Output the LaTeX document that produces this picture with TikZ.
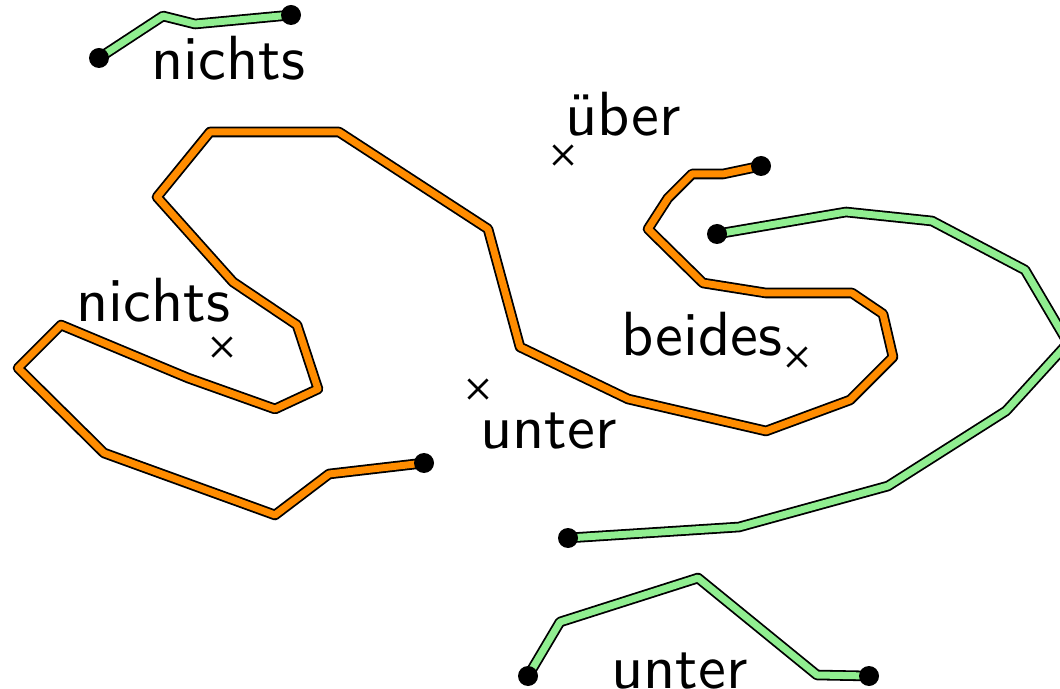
\documentclass[tikz,border=0pt]{standalone}
\usetikzlibrary{shapes.misc}
\definecolor{lgreen}{RGB}{144,238,144}
\definecolor{dorange}{RGB}{255,140,0}
\newcommand{\biglbl}[1]{{\sffamily\fontsize{10}{12}\selectfont\scalebox{3.12}{#1}}}
\tikzset{
  greenline/.style={draw=black, line width=5.3pt, line join=round, postaction={draw=lgreen, line width=3.5pt}},
  orangeline/.style={draw=black, line width=5.3pt, line join=round, postaction={draw=dorange, line width=3.5pt}},
  enddot/.style={circle, fill=black, inner sep=0pt, minimum size=10pt},
  crossmark/.style={cross out, draw=black, line width=1.4pt, inner sep=0pt, minimum size=8.2pt},
  lbl/.style={inner sep=0pt, anchor=base west}
}
\begin{document}
\begin{tikzpicture}[x=0.5pt, y=-0.5pt]
\useasboundingbox (0,0) rectangle (1060,689);
\clip (0,0) rectangle (1060,689);
% end points
\coordinate (g1a) at (99,58);
\coordinate (g1b) at (291,15);
\coordinate (oa) at (424,463);
\coordinate (ob) at (761,166);
\coordinate (g2a) at (717,234);
\coordinate (g2b) at (568,538);
\coordinate (g3a) at (528,676);
\coordinate (g3b) at (869,676);
% paths
\draw[greenline] (g1a) -- (163,16) -- (195,24) -- (g1b);
\draw[orangeline] (oa) -- (329,474) -- (275,515) -- (104,453) -- (18,368) -- (61,325)
  -- (188,378) -- (275,409) -- (318,389) -- (297,325) -- (233,282) -- (157,197)
  -- (210,132) -- (339,132) -- (488,229) -- (520,347) -- (628,399) -- (766,431)
  -- (850,400) -- (893,357) -- (883,314) -- (852,293) -- (766,293) -- (703,283)
  -- (648,229) -- (668,198) -- (692,174) -- (723,174) -- (ob);
\draw[greenline] (g2a) -- (846,212) -- (932,221) -- (1025,270) -- (1068,343)
  -- (1006,411) -- (888,486) -- (739,527) -- (g2b);
\draw[greenline] (g3a) -- (560,622) -- (698,578) -- (817,675) -- (g3b);
% dots
\foreach \p in {g1a,g1b,oa,ob,g2a,g2b,g3a,g3b} \node[enddot] (d\p) at (\p) {};
% crosses
\node[crossmark] (xu) at (563,155) {};
\node[crossmark] (xn) at (222,347) {};
\node[crossmark] (xm) at (478,389) {};
\node[crossmark] (xb) at (797,357) {};
% labels
\node[lbl] (l1) at (151,80) {\biglbl{nichts}};
\node[lbl] (l2) at (565,136) {\biglbl{über}};
\node[lbl] (l3) at (76,322) {\biglbl{nichts}};
\node[lbl] (l4) at (621,356) {\biglbl{beides}};
\node[lbl] (l5) at (480,449) {\biglbl{unter}};
\node[lbl] (l6) at (611,688) {\biglbl{unter}};
\end{tikzpicture}
\end{document}
